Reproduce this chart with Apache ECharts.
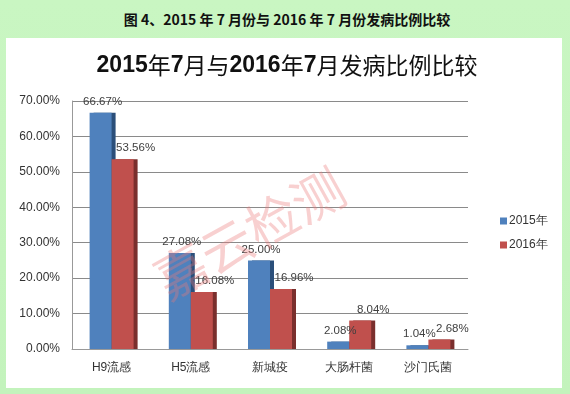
<!DOCTYPE html>
<html><head><meta charset="utf-8">
<script src="https://cdn.jsdelivr.net/npm/echarts@6/dist/echarts.min.js"></script>
<style>
html,body{margin:0;padding:0;}
body{width:570px;height:394px;background:linear-gradient(180deg,#c9f6c2 0%,#c3f3bc 100%);position:relative;overflow:hidden;font-family:"Noto Sans CJK SC","Noto Sans",sans-serif;}
#head{position:absolute;left:0;top:9px;width:574px;text-align:center;font-weight:bold;font-size:14px;color:#111;letter-spacing:0px;}
#panel{position:absolute;left:6px;top:38px;width:556px;height:350px;background:#fff;}
#chart{position:absolute;left:0;top:0;width:570px;height:394px;}
</style></head>
<body>
<div id="head">图 4、2015 年 7 月份与 2016 年 7 月份发病比例比较</div>
<div id="panel"></div>
<div id="chart"></div>
<script>
const categories = ['H9流感', 'H5流感', '新城疫', '大肠杆菌', '沙门氏菌'];
const seriesNames = ['2015年', '2016年'];
const values2015 = [66.67, 27.08, 25.00, 2.08, 1.04];
const values2016 = [53.56, 16.08, 16.96, 8.04, 2.68];
const yTicks = { min: 0, max: 70, interval: 10 };

const chart = echarts.init(document.getElementById('chart'), null, { renderer: 'canvas' });
const labelStyle = (dx) => ({
  show: true, position: 'top', distance: 5, offset: [dx, 0],
  color: '#404040', fontSize: 11.5, fontFamily: 'Liberation Sans, Arial, sans-serif',
  formatter: p => p.value.toFixed(2) + '%'
});
chart.setOption({
  animation: false,
  title: {
    text: '{b|2015}{n|年}{b|7}{n|月与}{b|2016}{n|年}{b|7}{n|月发病比例比较}',
    left: 282, top: 49, textAlign: 'center',
    textStyle: {
      rich: {
        b: { fontSize: 23, fontWeight: 'bold', color: '#111', fontFamily: 'Liberation Sans, Arial, sans-serif' },
        n: { fontSize: 23, fontWeight: 'normal', color: '#111', fontFamily: 'Noto Sans CJK SC' }
      }
    }
  },
  legend: {
    orient: 'vertical', left: 495, top: 210, itemGap: 12,
    itemWidth: 7, itemHeight: 7, icon: 'rect',
    textStyle: { fontSize: 12, color: '#333', padding: [0, 0, 0, -3] },
    data: seriesNames
  },
  grid: { left: 72, right: 102, top: 101, bottom: 45 },
  xAxis: {
    type: 'category', data: categories,
    axisLine: { lineStyle: { color: '#999' } },
    axisTick: { show: false },
    axisLabel: { color: '#333', fontSize: 12, margin: 13 }
  },
  yAxis: {
    type: 'value', min: yTicks.min, max: yTicks.max, interval: yTicks.interval,
    axisLine: { show: true, lineStyle: { color: '#999' } },
    axisTick: { show: false },
    splitLine: { lineStyle: { color: '#8a8a8a', width: 1 } },
    axisLabel: { color: '#333', fontSize: 12, margin: 12, fontFamily: 'Liberation Sans, Arial, sans-serif',
      formatter: v => v.toFixed(2) + '%' }
  },
  graphic: [{
    type: 'text', left: 146, top: 160, rotation: Math.PI / 6.2, z: 100,
    style: { text: '嘉云检测', fill: 'rgba(235,120,120,0.35)', font: '52px "Noto Sans CJK SC"' }
  }],
  series: [
    {
      name: seriesNames[0], type: 'bar', data: values2015, barWidth: 22, barGap: '0%',
      itemStyle: { color: '#4f81bd', shadowColor: '#2b4f7a', shadowOffsetX: 4, shadowOffsetY: 0, shadowBlur: 0 },
      label: labelStyle(2)
    },
    {
      name: seriesNames[1], type: 'bar', data: values2016, barWidth: 22,
      itemStyle: { color: '#c0504d', shadowColor: '#7a2f2d', shadowOffsetX: 4, shadowOffsetY: 0, shadowBlur: 0 },
      label: labelStyle(13)
    }
  ]
});
</script>
</body></html>
